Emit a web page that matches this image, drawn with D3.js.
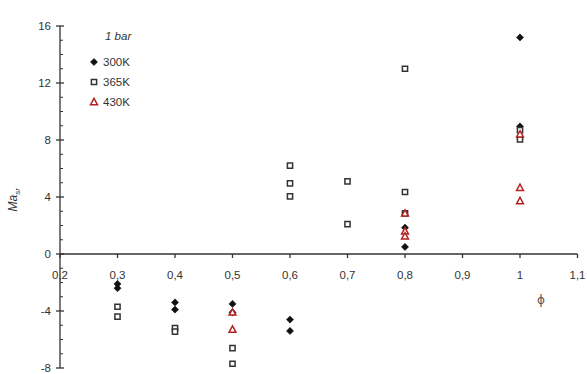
<!DOCTYPE html>
<html>
<head>
<meta charset="utf-8">
<script src="https://cdn.jsdelivr.net/npm/d3@7"></script>
<style>
  html, body { margin: 0; padding: 0; background: #fff; }
  svg text { font-family: "Liberation Sans", Arial, sans-serif; fill: #333; }
</style>
</head>
<body>
<svg id="chart" width="587" height="374"></svg>
<script>
// Equivalence ratio (phi) vs Ma, at 1 bar, for three initial temperatures
const phi300 = [0.3, 0.3, 0.4, 0.4, 0.5, 0.5, 0.6, 0.6, 0.8, 0.8, 1.0, 1.0];
const ma300  = [-2.1, -2.4, -3.4, -3.9, -3.5, -4.1, -4.6, -5.4, 1.85, 0.5, 15.2, 8.95];

const phi365 = [0.3, 0.3, 0.4, 0.4, 0.5, 0.5, 0.6, 0.6, 0.6, 0.7, 0.7, 0.8, 0.8, 0.8, 1.0, 1.0];
const ma365  = [-3.7, -4.4, -5.2, -5.45, -6.6, -7.7, 6.2, 4.95, 4.05, 5.1, 2.1, 13.0, 4.35, 2.85, 8.7, 8.05];

const phi430 = [0.5, 0.5, 0.8, 0.8, 0.8, 1.0, 1.0, 1.0];
const ma430  = [-4.1, -5.3, 2.85, 1.6, 1.25, 8.4, 4.65, 3.72];

const xTicks = [0.2, 0.3, 0.4, 0.5, 0.6, 0.7, 0.8, 0.9, 1.0, 1.1];
const yTicks = [-8, -4, 0, 4, 8, 12, 16];
const legendTitle = "1 bar";
const seriesNames = ["300K", "365K", "430K"];

const svg = d3.select("#chart");
const x = d3.scaleLinear().domain([0.2, 1.1]).range([60, 577.5]);
const y = d3.scaleLinear().domain([-8, 16]).range([368, 26]);
const axisColor = "#333";

// Y axis: major ticks cross the line, minor ticks on the right
const yAxis = svg.append("g");
yAxis.append("line")
  .attr("x1", x(0.2)).attr("x2", x(0.2))
  .attr("y1", y(-8)).attr("y2", y(16))
  .attr("stroke", axisColor).attr("stroke-width", 1.3);
yAxis.selectAll(".ymaj").data(yTicks).join("line")
  .attr("x1", x(0.2) - 4).attr("x2", x(0.2) + 4)
  .attr("y1", d => y(d)).attr("y2", d => y(d))
  .attr("stroke", axisColor).attr("stroke-width", 1.3);
yAxis.selectAll(".ymin").data(d3.range(-8, 17).filter(v => v % 4 !== 0)).join("line")
  .attr("x1", x(0.2)).attr("x2", x(0.2) + 3)
  .attr("y1", d => y(d)).attr("y2", d => y(d))
  .attr("stroke", axisColor).attr("stroke-width", 1);
yAxis.selectAll(".ylab").data(yTicks).join("text")
  .attr("x", 51).attr("y", d => y(d) + 4)
  .attr("text-anchor", "end").attr("font-size", 11.5)
  .text(d => d);

// X axis along Ma = 0
const xAxis = svg.append("g");
xAxis.append("line")
  .attr("x1", x(0.2)).attr("x2", x(1.1))
  .attr("y1", y(0)).attr("y2", y(0))
  .attr("stroke", axisColor).attr("stroke-width", 1.3);
xAxis.selectAll(".xmaj").data(xTicks).join("line")
  .attr("x1", d => x(d)).attr("x2", d => x(d))
  .attr("y1", y(0)).attr("y2", y(0) + 4)
  .attr("stroke", axisColor).attr("stroke-width", 1.3);
xAxis.selectAll(".xlab").data(xTicks).join("text")
  .attr("x", d => x(d)).attr("y", y(0) + 25)
  .attr("text-anchor", "middle").attr("font-size", 11.5)
  .text(d => d3.format("~g")(d).replace(".", ","));

// Axis titles
svg.append("text")
  .attr("transform", `translate(17,${y(3.8)}) rotate(-90)`)
  .attr("text-anchor", "middle").attr("font-size", 12)
  .attr("font-style", "italic")
  .html('Ma<tspan font-size="8" dy="3">sr</tspan>');
svg.append("g").attr("opacity", 0.999)
  .append("text")
  .attr("x", 541).attr("y", 304)
  .attr("text-anchor", "middle").attr("font-size", 12)
  .style("font-family", "'DejaVu Sans', sans-serif")
  .style("fill", "#555")
  .text("\u03D5");

// Marker shapes
const diamond = r => `M0,${-r}L${r},0L0,${r}L${-r},0Z`;
const square = s => `M${-s},${-s}H${s}V${s}H${-s}Z`;
const triangle = r => `M0,${-r}L${r * 0.95},${r * 0.75}H${-r * 0.95}Z`;
const red = "#b22020";

function drawDiamonds(g, xs, ys) {
  g.selectAll("path").data(xs.map((v, i) => [v, ys[i]])).join("path")
    .attr("d", diamond(3.6))
    .attr("transform", d => `translate(${x(d[0])},${y(d[1])})`)
    .attr("fill", "#111").attr("stroke", "#111").attr("stroke-width", 0.5);
}
function drawSquares(g, xs, ys) {
  g.selectAll("path").data(xs.map((v, i) => [v, ys[i]])).join("path")
    .attr("d", square(2.6))
    .attr("transform", d => `translate(${x(d[0])},${y(d[1])})`)
    .attr("fill", "#fff").attr("stroke", "#333").attr("stroke-width", 1.5);
}
function drawTriangles(g, xs, ys) {
  g.selectAll("path").data(xs.map((v, i) => [v, ys[i]])).join("path")
    .attr("d", triangle(3.6))
    .attr("transform", d => `translate(${x(d[0])},${y(d[1])})`)
    .attr("fill", "#fff").attr("stroke", red).attr("stroke-width", 1.5);
}

drawDiamonds(svg.append("g"), phi300, ma300);
drawSquares(svg.append("g"), phi365, ma365);
drawTriangles(svg.append("g"), phi430, ma430);

// Legend
const lg = svg.append("g");
lg.append("text").attr("x", 105).attr("y", 40)
  .attr("font-size", 11.5).attr("font-style", "italic").text(legendTitle);
const rows = [62, 82, 102];
lg.append("path").attr("d", diamond(3.6)).attr("transform", `translate(94,${rows[0]})`)
  .attr("fill", "#111").attr("stroke", "#111").attr("stroke-width", 0.5);
lg.append("path").attr("d", square(2.6)).attr("transform", `translate(94,${rows[1]})`)
  .attr("fill", "#fff").attr("stroke", "#333").attr("stroke-width", 1.5);
lg.append("path").attr("d", triangle(3.6)).attr("transform", `translate(94,${rows[2]})`)
  .attr("fill", "#fff").attr("stroke", red).attr("stroke-width", 1.5);
lg.selectAll(".lt").data(seriesNames).join("text")
  .attr("x", 103).attr("y", (d, i) => rows[i] + 4)
  .attr("font-size", 11.5).text(d => d);
</script>
</body>
</html>
